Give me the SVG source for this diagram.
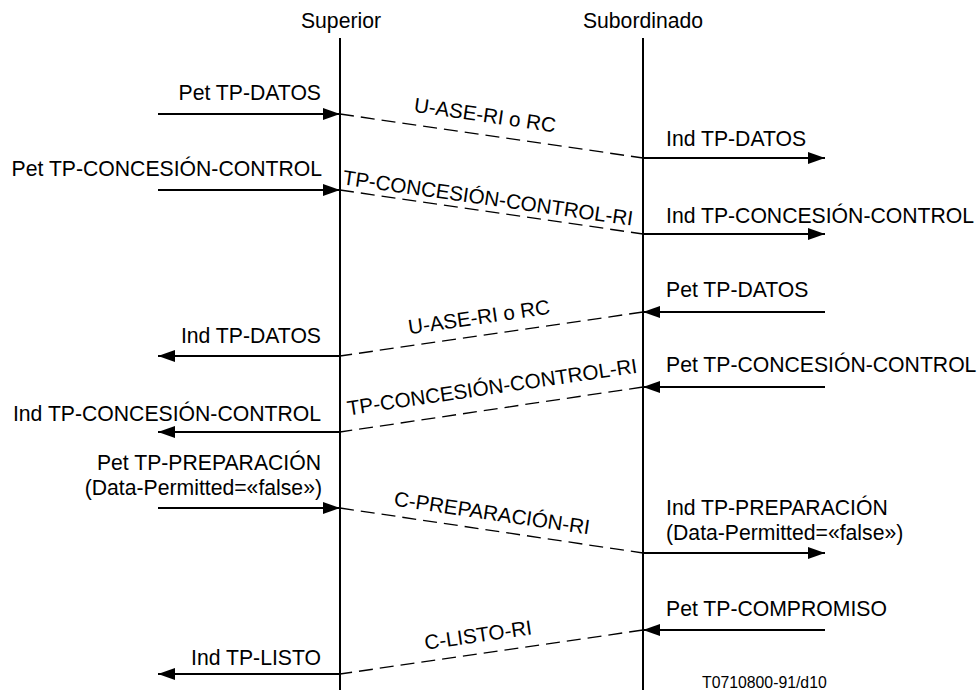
<svg xmlns="http://www.w3.org/2000/svg" width="978" height="690" viewBox="0 0 978 690">
  <style>
    text { font-family: "Liberation Sans", Arial, sans-serif; font-size: 21.2px; fill: #000; }
    .end { text-anchor: end; }
    .mid { text-anchor: middle; }
    .pdu-label { text-anchor: middle; font-size: 20.6px; }
    .life { stroke: #000; stroke-width: 2; fill: none; }
    .msg { stroke: #000; stroke-width: 2; fill: none; marker-end: url(#head); }
    .pdu { stroke: #000; stroke-width: 1.3; fill: none; stroke-dasharray: 14 7; }
    .ref { font-size: 15.8px; }
  </style>
  <defs>
    <marker id="head" markerUnits="userSpaceOnUse" markerWidth="18" markerHeight="12" refX="17" refY="6" orient="auto">
      <path d="M0,0 L17,6 L0,12 z" fill="#000"/>
    </marker>
  </defs>
  <rect width="978" height="690" fill="#fff"/>

  <!-- lifelines -->
  <g id="superior">
    <text class="mid" x="341" y="28">Superior</text>
    <line class="life" x1="340" y1="38" x2="340" y2="690"/>
  </g>
  <g id="subordinado">
    <text class="mid" x="643" y="28">Subordinado</text>
    <line class="life" x1="643" y1="38" x2="643" y2="690"/>
  </g>

  <g id="connectors">
    <!-- 1: data request -->
    <line class="msg" x1="158" y1="114" x2="340" y2="114"/>
    <line class="pdu" x1="340" y1="114" x2="643" y2="158"/>
    <line class="msg" x1="643" y1="158" x2="825" y2="158"/>
    <!-- 2: control give request -->
    <line class="msg" x1="158" y1="190" x2="340" y2="190"/>
    <line class="pdu" x1="340" y1="190" x2="643" y2="234"/>
    <line class="msg" x1="643" y1="234" x2="825" y2="234"/>
    <!-- 3: data from subordinate -->
    <line class="msg" x1="825" y1="312" x2="643" y2="312"/>
    <line class="pdu" x1="643" y1="312" x2="340" y2="356"/>
    <line class="msg" x1="340" y1="356" x2="158" y2="356"/>
    <!-- 4: control give from subordinate -->
    <line class="msg" x1="825" y1="387" x2="643" y2="387"/>
    <line class="pdu" x1="643" y1="387" x2="340" y2="432"/>
    <line class="msg" x1="340" y1="432" x2="158" y2="432"/>
    <!-- 5: prepare -->
    <line class="msg" x1="158" y1="508" x2="340" y2="508"/>
    <line class="pdu" x1="340" y1="508" x2="643" y2="553"/>
    <line class="msg" x1="643" y1="553" x2="825" y2="553"/>
    <!-- 6: commit / ready -->
    <line class="msg" x1="825" y1="630" x2="643" y2="630"/>
    <line class="pdu" x1="643" y1="630" x2="340" y2="674"/>
    <line class="msg" x1="340" y1="674" x2="158" y2="674"/>
  </g>

  <g id="labels">
    <text class="end" x="321" y="100">Pet TP-DATOS</text>
    <text x="666" y="146">Ind TP-DATOS</text>
    <text class="pdu-label" transform="translate(484,122) rotate(8.3)">U-ASE-RI o RC</text>

    <text class="end" x="322" y="176">Pet TP-CONCESIÓN-CONTROL</text>
    <text x="666" y="223">Ind TP-CONCESIÓN-CONTROL</text>
    <text class="pdu-label" transform="translate(487,205) rotate(8.1)">TP-CONCESIÓN-CONTROL-RI</text>

    <text x="666" y="297">Pet TP-DATOS</text>
    <text class="end" x="321" y="343">Ind TP-DATOS</text>
    <text class="pdu-label" transform="translate(480,324) rotate(-8.3)">U-ASE-RI o RC</text>

    <text x="666" y="372">Pet TP-CONCESIÓN-CONTROL</text>
    <text class="end" x="321" y="421">Ind TP-CONCESIÓN-CONTROL</text>
    <text class="pdu-label" transform="translate(493,394) rotate(-8.4)">TP-CONCESIÓN-CONTROL-RI</text>

    <text class="end" x="321" y="470">Pet TP-PREPARACIÓN</text>
    <text class="end" x="322" y="495">(Data-Permitted=«false»)</text>
    <text x="666" y="515">Ind TP-PREPARACIÓN</text>
    <text x="666" y="540">(Data-Permitted=«false»)</text>
    <text class="pdu-label" transform="translate(491,520) rotate(8.4)">C-PREPARACIÓN-RI</text>

    <text x="666" y="616">Pet TP-COMPROMISO</text>
    <text class="end" x="321" y="665">Ind TP-LISTO</text>
    <text class="pdu-label" transform="translate(479,642) rotate(-8.3)">C-LISTO-RI</text>

    <text class="ref" x="702" y="688">T0710800-91/d10</text>
  </g>
</svg>
